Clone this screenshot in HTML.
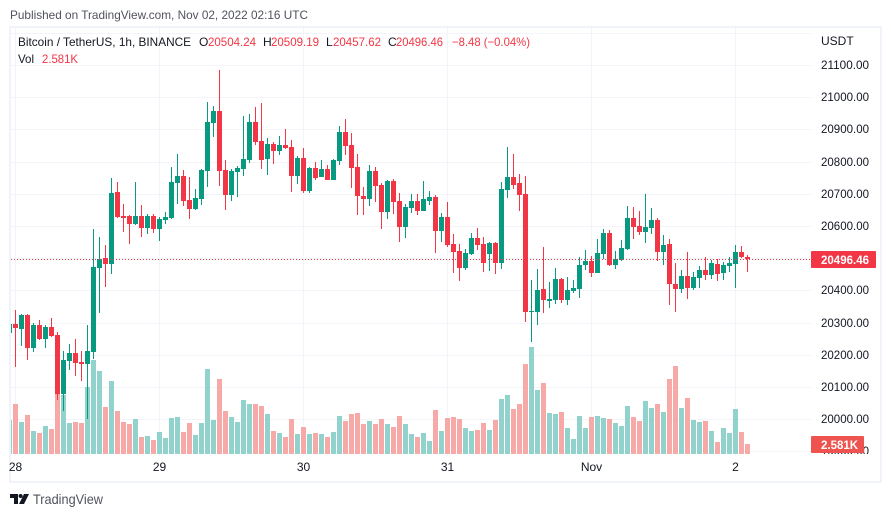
<!DOCTYPE html>
<html lang="en">
<head>
<meta charset="utf-8">
<title>Bitcoin / TetherUS 1h chart</title>
<style>
html,body{margin:0;padding:0;background:#fff;width:891px;height:517px;overflow:hidden}
svg{display:block}
text{font-family:"Liberation Sans",sans-serif;font-size:12px;fill:#131722}
</style>
</head>
<body>
<svg id="chart" xmlns="http://www.w3.org/2000/svg" width="891" height="517" viewBox="0 0 891 517">
  <defs>
    <clipPath id="pane-clip"><rect x="11" y="28" width="800" height="428"/></clipPath>
    <clipPath id="axis-clip"><rect x="811" y="28" width="69" height="426"/></clipPath>
  </defs>
  <rect x="0" y="0" width="891" height="517" fill="#ffffff"/>
  <text x="10" y="19" textLength="298" lengthAdjust="spacingAndGlyphs" fill="#50535e" style="fill:#50535e">Published on TradingView.com, Nov 02, 2022 02:16 UTC</text>
  <rect x="10" y="27" width="871" height="455" fill="none" stroke="#f0f3fa" stroke-width="2"/>
  <g id="grid" clip-path="url(#pane-clip)" shape-rendering="crispEdges"></g>
  <g id="volumes" clip-path="url(#pane-clip)" shape-rendering="crispEdges"></g>
  <g id="candles" clip-path="url(#pane-clip)" shape-rendering="crispEdges"></g>
  <g id="last-line" clip-path="url(#pane-clip)"></g>
  <g id="price-ticks" clip-path="url(#axis-clip)"></g>
  <g id="price-axis"></g>
  <g id="time-axis"></g>
  <g>
    <text x="18" y="46" textLength="173" lengthAdjust="spacingAndGlyphs">Bitcoin / TetherUS, 1h, BINANCE</text>
    <text x="199" y="46">O</text>
    <text x="208" y="46" textLength="48" lengthAdjust="spacingAndGlyphs" style="fill:#f23645">20504.24</text>
    <text x="263" y="46">H</text>
    <text x="271" y="46" textLength="48" lengthAdjust="spacingAndGlyphs" style="fill:#f23645">20509.19</text>
    <text x="326" y="46">L</text>
    <text x="333" y="46" textLength="48" lengthAdjust="spacingAndGlyphs" style="fill:#f23645">20457.62</text>
    <text x="388" y="46">C</text>
    <text x="396" y="46" textLength="47" lengthAdjust="spacingAndGlyphs" style="fill:#f23645">20496.46</text>
    <text x="452" y="46" textLength="78" lengthAdjust="spacingAndGlyphs" style="fill:#f23645">−8.48 (−0.04%)</text>
    <text x="18" y="63" textLength="16" lengthAdjust="spacingAndGlyphs">Vol</text>
    <text x="42" y="63" textLength="36" lengthAdjust="spacingAndGlyphs" style="fill:#f23645">2.581K</text>
  </g>
  <g>
    <path d="M10 494H18V504H14V498H10Z M19 504L24 494H29L24 504Z" fill="#131722"/>
    <circle cx="20.6" cy="496" r="2" fill="#131722"/>
    <text x="33" y="504" textLength="70" lengthAdjust="spacingAndGlyphs" style="font-size:14px;fill:#50535e">TradingView</text>
  </g>
</svg>
<script>
const opens = [20268,20296,20280,20323,20221,20292,20249,20286,20261,20078,20181,20206,20178,20172,20209,20469,20500,20482,20705,20630,20630,20606,20630,20593,20630,20590,20618,20624,20734,20755,20680,20652,20683,20771,20920,20957,20774,20696,20768,20777,20805,20923,20864,20808,20855,20833,20852,20845,20755,20811,20708,20780,20752,20777,20743,20802,20892,20852,20783,20693,20684,20771,20727,20643,20740,20677,20596,20655,20677,20646,20677,20690,20584,20627,20544,20522,20469,20513,20562,20544,20513,20547,20485,20711,20752,20734,20699,20333,20333,20404,20367,20370,20435,20370,20398,20404,20478,20491,20454,20513,20578,20478,20494,20528,20624,20599,20581,20593,20618,20519,20544,20420,20404,20445,20407,20438,20463,20448,20482,20454,20476,20482,20519,20504.24];
const highs = [20300,20339,20327,20325,20299,20308,20292,20314,20271,20212,20234,20249,20212,20292,20590,20565,20541,20749,20737,20668,20633,20737,20665,20637,20637,20627,20643,20783,20824,20774,20752,20714,20777,20985,20972,21084,20805,20777,20786,20941,20948,20969,20982,20873,20861,20880,20901,20867,20817,20842,20783,20799,20805,20789,20808,20911,20932,20889,20824,20721,20789,20783,20734,20743,20746,20702,20668,20699,20699,20740,20708,20696,20640,20674,20575,20544,20528,20578,20593,20565,20549,20550,20737,20845,20824,20761,20755,20432,20466,20535,20426,20469,20438,20441,20432,20503,20525,20506,20559,20590,20587,20522,20556,20662,20659,20646,20699,20655,20624,20572,20559,20485,20463,20519,20457,20476,20503,20494,20497,20488,20503,20541,20538,20509.19];
const lows = [20260,20162,20227,20184,20209,20246,20221,20255,20059,20025,20152,20133,20118,20000,20187,20330,20410,20451,20625,20581,20544,20603,20565,20575,20578,20553,20606,20622,20668,20662,20621,20649,20665,20721,20876,20724,20649,20677,20690,20755,20796,20852,20777,20758,20793,20821,20839,20705,20731,20702,20702,20743,20752,20743,20743,20789,20821,20718,20634,20634,20662,20674,20590,20621,20637,20550,20562,20640,20634,20646,20665,20516,20550,20535,20454,20429,20463,20510,20525,20457,20460,20451,20466,20686,20714,20646,20302,20240,20292,20330,20345,20358,20361,20355,20392,20376,20463,20441,20454,20497,20475,20466,20491,20525,20559,20572,20547,20575,20491,20478,20355,20333,20392,20373,20401,20407,20432,20435,20429,20432,20457,20407,20500,20457.62];
const closes = [20296,20283,20323,20221,20292,20249,20286,20258,20078,20184,20206,20175,20172,20212,20472,20497,20482,20702,20627,20624,20606,20630,20593,20630,20590,20621,20627,20737,20755,20677,20652,20686,20774,20923,20957,20771,20696,20771,20780,20808,20923,20861,20805,20855,20833,20852,20842,20755,20811,20708,20780,20749,20777,20743,20805,20892,20849,20780,20693,20684,20771,20724,20643,20740,20674,20596,20659,20677,20646,20683,20690,20584,20627,20541,20519,20469,20516,20562,20541,20485,20547,20485,20714,20752,20727,20696,20333,20336,20401,20370,20373,20435,20370,20401,20407,20478,20491,20454,20516,20578,20478,20497,20531,20624,20596,20581,20596,20618,20519,20541,20420,20404,20445,20407,20441,20463,20448,20485,20451,20478,20485,20519,20504,20496.46];
const volumes = [8.77,12.90,8.26,10.06,5.93,5.42,7.22,6.45,15.48,15.22,8.00,8.26,8.00,17.29,24.25,21.41,12.13,18.83,11.09,8.26,7.74,9.03,4.39,4.64,3.61,5.68,4.13,9.29,9.55,5.68,8.00,4.90,8.00,21.93,8.77,19.35,11.09,9.55,8.26,13.93,12.90,12.90,12.38,10.32,5.93,5.42,4.39,9.03,5.16,6.97,5.16,5.42,5.16,4.39,5.68,9.80,8.51,10.32,10.58,7.74,8.51,7.74,9.03,7.74,6.97,9.80,7.74,5.16,4.39,5.42,3.35,11.35,5.93,9.29,9.55,9.03,6.71,5.93,6.19,8.00,6.19,8.77,14.19,15.22,11.61,12.90,23.22,27.61,16.51,18.32,10.58,10.32,10.84,6.71,3.87,9.80,6.71,9.55,9.80,9.29,9.03,8.00,7.22,12.38,9.55,8.51,13.67,11.87,12.90,10.84,19.35,22.70,11.87,14.45,8.77,8.26,8.51,5.93,3.10,6.71,5.42,11.61,5.68,2.581];
const priceTicks = ["21200.00","21100.00","21000.00","20900.00","20800.00","20700.00","20600.00","20500.00","20400.00","20300.00","20200.00","20100.00","20000.00","19900.00"];
const timeTickLabels = ["28","29","30","31","Nov","2"];
const timeTickSlots = [1,25,49,73,97,121];
const lastPriceLabel = "20496.46";
const lastVolumeLabel = "2.581K";

const NS = "http://www.w3.org/2000/svg";
const xAxis = function (slot) { return 9.5 + 6 * slot; };
const yPrice = function (p) { return 65 + (21100 - p) * 0.3219; };
const volumeHeight = function (v) { return v * 3.874; };
const VOLUME_BASE = 454;
const GREEN = "#089981", RED = "#f23645", VOL_GREEN = "#92d2cc", VOL_RED = "#f7a9a7";

function mk(tag, parent, props) {
  const el = document.createElementNS(NS, tag);
  for (const k in props) el.setAttribute(k, props[k]);
  parent.appendChild(el);
  return el;
}

const gridG = document.getElementById("grid");
priceTicks.forEach(function (t) {
  const gy = Math.round(yPrice(parseFloat(t)));
  const line = mk("rect", gridG, {x: 11, y: gy, width: 800, height: 1, fill: "#f2f4f9"});
  
  
});
timeTickSlots.forEach(function (s) {
  const line = mk("rect", gridG, {x: Math.floor(xAxis(s)), y: 28, width: 1, height: 428, fill: "#f2f4f9"});
  
  
});

const volG = document.getElementById("volumes");
volumes.forEach(function (v, i) {
  const up = closes[i] >= opens[i];
  const h = Math.round(volumeHeight(v));
  const bar = mk("rect", volG, {x: Math.floor(xAxis(i)) - 2, y: VOLUME_BASE - h, width: 5, height: h, fill: up ? VOL_GREEN : VOL_RED});
  
  
});

const candleG = document.getElementById("candles");
opens.forEach(function (o, i) {
  const c = closes[i];
  const up = c >= o;
  const col = up ? GREEN : RED;
  const px = Math.floor(xAxis(i));
  const yh = Math.round(yPrice(highs[i]));
  const yl = Math.round(yPrice(lows[i]));
  const top = Math.round(yPrice(Math.max(o, c)));
  const bot = Math.round(yPrice(Math.min(o, c)));
  const wick = mk("rect", candleG, {x: px, y: yh, width: 1, height: Math.max(1, yl - yh), fill: col});
  
  
  const body = mk("rect", candleG, {x: px - 2, y: top, width: 5, height: Math.max(1, bot - top), fill: col});
  
  
});

const lastG = document.getElementById("last-line");
const lastY = Math.floor(yPrice(closes[closes.length - 1])) + 0.5;
const lastLine = mk("line", lastG, {x1: 11, x2: 811, y1: lastY, y2: lastY, stroke: RED, "stroke-width": 1, "stroke-dasharray": "1 2"});



const pTicks = document.getElementById("price-ticks");
const pAxis = document.getElementById("price-axis");
const usdt = mk("text", pAxis, {x: 821, y: 45});
usdt.textContent = "USDT";


priceTicks.slice(1).forEach(function (t) {
  const lbl = mk("text", pTicks, {x: 821, y: Math.round(yPrice(parseFloat(t))) + 4, textLength: 48, lengthAdjust: "spacingAndGlyphs"});
  lbl.textContent = t;
  
  
});
const priceBox = mk("rect", pAxis, {x: 811, y: Math.round(lastY) - 9, width: 65, height: 17, rx: 1, fill: RED});


const priceTxt = mk("text", pAxis, {x: 821, y: Math.round(lastY) + 4, textLength: 48, lengthAdjust: "spacingAndGlyphs", style: "fill:#fff;font-weight:bold"});
priceTxt.textContent = lastPriceLabel;


const lastVolTop = VOLUME_BASE - Math.round(volumeHeight(volumes[volumes.length - 1]));
const volBox = mk("rect", pAxis, {x: 811, y: lastVolTop - 8, width: 53, height: 17, rx: 1, fill: "#ef5350"});


const volTxt = mk("text", pAxis, {x: 821, y: lastVolTop + 5, textLength: 37, lengthAdjust: "spacingAndGlyphs", style: "fill:#fff;font-weight:bold"});
volTxt.textContent = lastVolumeLabel;



const tAxis = document.getElementById("time-axis");
timeTickLabels.forEach(function (t, i) {
  const lbl = mk("text", tAxis, {x: xAxis(timeTickSlots[i]), y: 471, "text-anchor": "middle"});
  lbl.textContent = t;
  
  
});
</script>
</body>
</html>
